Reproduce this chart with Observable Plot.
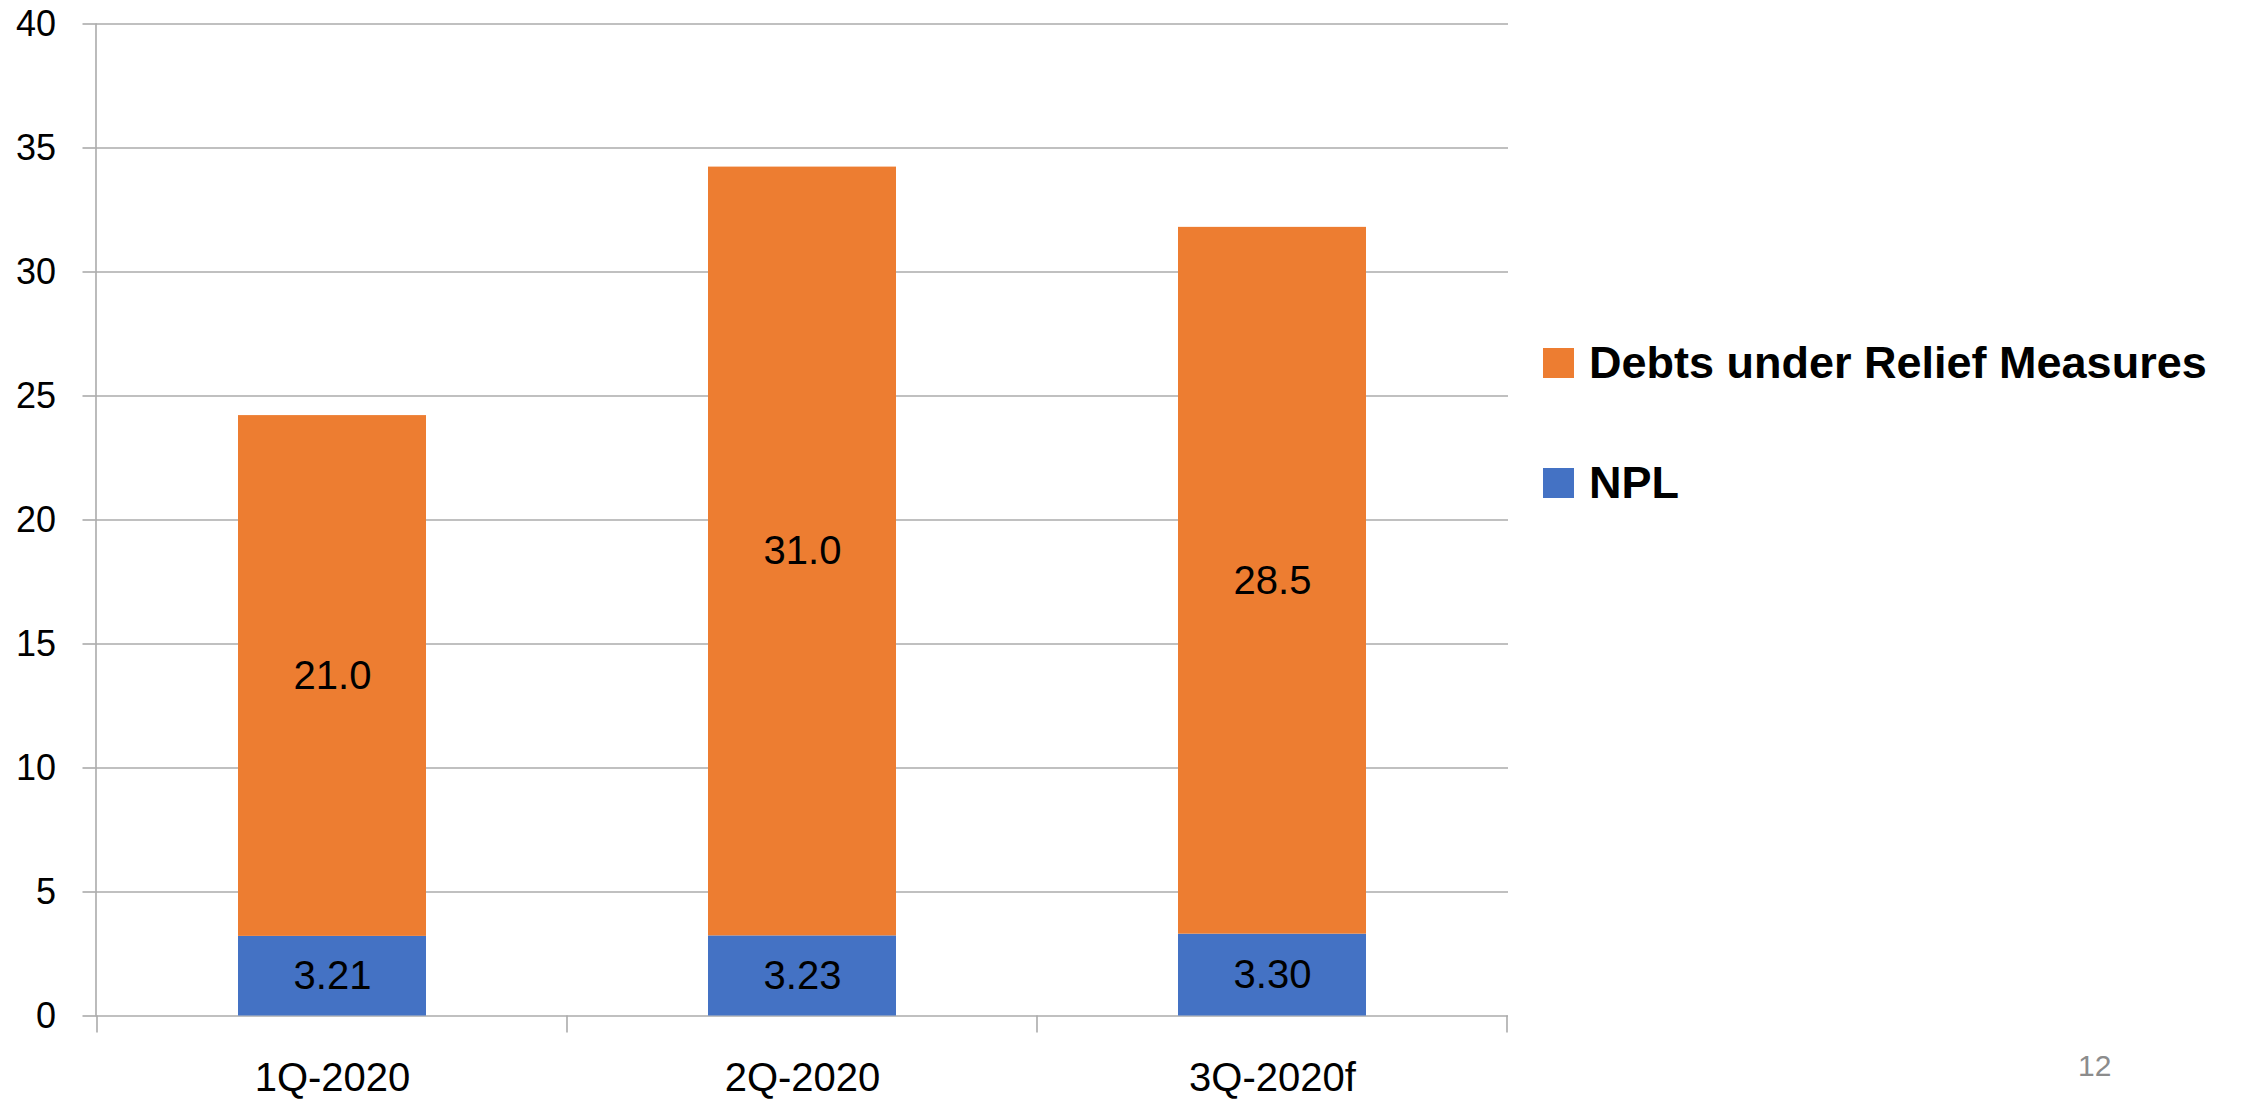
<!DOCTYPE html>
<html>
<head>
<meta charset="utf-8">
<script src="https://cdn.jsdelivr.net/npm/d3@7"></script>
<script src="https://cdn.jsdelivr.net/npm/@observablehq/plot@0.6"></script>
<style>
  html, body { margin: 0; padding: 0; background: #fff; }
  body { width: 2254px; height: 1100px; position: relative; overflow: hidden; font-family: "Liberation Sans", Arial, sans-serif; }
  #chart { position: absolute; left: 0; top: 0; }
  .legend-item { position: absolute; display: flex; align-items: center; font-weight: bold; font-size: 45px; color: #000; white-space: nowrap; }
  .legend-swatch { width: 31px; height: 30px; margin-right: 15px; }
  #page { position: absolute; left: 2078px; top: 1049px; font-size: 30px; color: #8c8c8c; }
</style>
</head>
<body>
<div id="chart"></div>
<div id="legend"></div>
<div id="page">12</div>
<script>
const quarters = ["1Q-2020", "2Q-2020", "3Q-2020f"];
const seriesNames = ["NPL", "Debts under Relief Measures"];
const nplValues = [3.21, 3.23, 3.30];
const reliefValues = [21.0, 31.0, 28.5];
const seriesColors = ["#4472C4", "#ED7D31"];
const seriesDecimals = [2, 1];
const yTicks = [0, 5, 10, 15, 20, 25, 30, 35, 40];
const legendOrder = ["Debts under Relief Measures", "NPL"];
const pageNumber = "12";

const rows = [];
quarters.forEach((q, i) => rows.push({quarter: q, series: seriesNames[0], value: nplValues[i], decimals: seriesDecimals[0]}));
quarters.forEach((q, i) => rows.push({quarter: q, series: seriesNames[1], value: reliefValues[i], decimals: seriesDecimals[1]}));

const gridColor = "#ababab";

const chart = Plot.plot({
  width: 2254,
  height: 1100,
  marginLeft: 95.5,
  marginRight: 746,
  marginTop: 23.5,
  marginBottom: 84.5,
  style: {fontFamily: "'Liberation Sans', Arial, sans-serif", background: "#fff", color: "#000"},
  x: {domain: quarters, paddingInner: 0.6, paddingOuter: 0.3, label: null},
  y: {domain: [0, 40], label: null},
  color: {domain: seriesNames, range: seriesColors},
  marks: [
    Plot.gridY(yTicks, {stroke: gridColor, strokeOpacity: 1, strokeWidth: 1.6}),
    Plot.axisY(yTicks, {tickSize: 13, tickPadding: 27, stroke: gridColor, strokeWidth: 1.6, fontSize: 36, fill: "#000", label: null}),
    Plot.axisX({tickSize: 0, tickPadding: 47, fontSize: 40, fill: "#000", label: null}),
    Plot.frame({anchor: "left", stroke: gridColor, strokeWidth: 1.6}),
    Plot.barY(rows, Plot.stackY({x: "quarter", y: "value", z: "series", fill: "series", order: null})),
    Plot.text(rows, Plot.stackY({x: "quarter", y: "value", z: "series", order: null,
      text: d => d.value.toFixed(d.decimals), fontSize: 40, fill: "#000"}))
  ]
});
document.getElementById("chart").appendChild(chart);

// category boundary tick marks on the x axis, from the library's own scales
const xs = chart.scale("x");
const ys = chart.scale("y");
const gap = xs.step - xs.bandwidth;
const bounds = quarters.map(q => xs.apply(q) - gap / 2);
bounds.push(xs.apply(quarters[quarters.length - 1]) + xs.bandwidth + gap / 2);
const y0 = ys.apply(0);
d3.select(chart).append("g")
  .selectAll("line").data(bounds).join("line")
  .attr("x1", d => d).attr("x2", d => d)
  .attr("y1", y0).attr("y2", y0 + 17)
  .attr("stroke", gridColor).attr("stroke-width", 1.6);

// legend (to the right of the plot)
const legend = document.getElementById("legend");
const legendTops = [337, 457];
legendOrder.forEach((name, i) => {
  const item = document.createElement("div");
  item.className = "legend-item";
  item.style.left = "1543px";
  item.style.top = legendTops[i] + "px";
  const sw = document.createElement("div");
  sw.className = "legend-swatch";
  sw.style.background = seriesColors[seriesNames.indexOf(name)];
  const tx = document.createElement("span");
  tx.textContent = name;
  item.appendChild(sw);
  item.appendChild(tx);
  legend.appendChild(item);
});
document.getElementById("page").textContent = pageNumber;
</script>
</body>
</html>
